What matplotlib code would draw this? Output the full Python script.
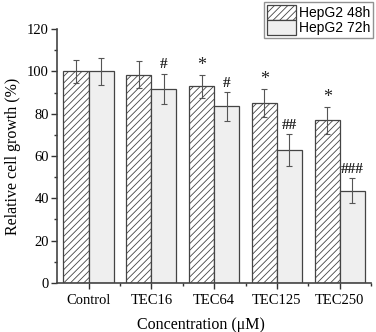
import matplotlib
matplotlib.use("Agg")
import matplotlib.pyplot as plt
import numpy as np
from matplotlib.ticker import MultipleLocator, FixedLocator

categories = ["Control", "TEC16", "TEC64", "TEC125", "TEC250"]
series_names = ["HepG2 48h", "HepG2 72h"]
vals_48 = [100.0, 98.5, 93.0, 85.2, 77.0]
err_48 = [5.3, 6.5, 5.5, 6.7, 6.4]
vals_72 = [100.0, 91.7, 83.6, 62.8, 43.6]
err_72 = [6.3, 7.3, 6.8, 7.4, 6.0]
marks_48 = ["", "", "*", "*", "*"]
marks_72 = ["", "#", "#", "##", "###"]

plt.rcParams['hatch.color'] = '#555555'
plt.rcParams['hatch.linewidth'] = 0.6

fig = plt.figure(figsize=(3.76, 3.32), dpi=100)
ax = fig.add_axes([0.152, 0.148, 0.835, 0.764])

x = np.arange(len(categories))
w = 0.4
edge = '#444444'
b1 = ax.bar(x - w/2, vals_48, w, facecolor='white', edgecolor=edge, hatch='/////',
            linewidth=0.9, label=series_names[0], zorder=2)
b2 = ax.bar(x + w/2, vals_72, w, facecolor='#efefef', edgecolor=edge,
            linewidth=0.9, label=series_names[1], zorder=2)
ax.errorbar(x - w/2, vals_48, yerr=err_48, fmt='none', ecolor='#555555',
            elinewidth=0.8, capsize=2.5, capthick=0.8, zorder=3)
ax.errorbar(x + w/2, vals_72, yerr=err_72, fmt='none', ecolor='#555555',
            elinewidth=0.8, capsize=2.5, capthick=0.8, zorder=3)

serif = ['Liberation Serif', 'DejaVu Serif']
for xi, v, e, m in zip(x - w/2, vals_48, err_48, marks_48):
    if m:
        ax.text(xi, v + e + 0.5, m, ha='center', va='bottom', fontsize=13,
                family=serif, color='#222222')
for xi, v, e, m in zip(x + w/2, vals_72, err_72, marks_72):
    if m:
        ax.text(xi, v + e + 1.0, m, ha='center', va='bottom', fontsize=11,
                family=serif, weight='bold', color='#222222')

ax.set_xlim(-0.5, 4.5)
ax.set_ylim(0, 120)
ax.set_xticks(x)
ax.set_xticklabels(categories, family=serif, fontsize=10.5)
ax.xaxis.set_minor_locator(FixedLocator(x + 0.5))
ax.yaxis.set_major_locator(MultipleLocator(20))
ax.yaxis.set_minor_locator(MultipleLocator(10))
for lab in ax.get_yticklabels():
    lab.set_family(serif)
    lab.set_fontsize(10.5)
ax.tick_params(axis='both', which='major', direction='out', length=4, width=1.0, colors='#333333', labelcolor='black')
ax.tick_params(axis='both', which='minor', direction='out', length=2.5, width=1.0, colors='#333333')
ax.tick_params(axis='y', pad=2)
ax.tick_params(axis='x', pad=4)
for s in ['top', 'right']:
    ax.spines[s].set_visible(False)
for s in ['left', 'bottom']:
    ax.spines[s].set_color('#444444')
    ax.spines[s].set_linewidth(1.2)

ax.set_ylabel("Relative cell growth (%)", family=serif, fontsize=11.5, labelpad=4)
ax.set_xlabel("Concentration (\u03bcM)", family=serif, fontsize=11.5)
ax.xaxis.set_label_coords(0.459, -0.135)

leg = fig.legend(handles=[b1, b2], loc='upper right', bbox_to_anchor=(0.993, 0.993),
                 prop={'family': 'Liberation Sans', 'size': 10}, frameon=True,
                 fancybox=False, edgecolor='#777777', handlelength=2.1, handleheight=1.25,
                 handletextpad=0.2, labelspacing=0.0, borderpad=0.2, borderaxespad=0.0)
leg.get_frame().set_linewidth(1.0)

fig.savefig("out.png", dpi=100)
